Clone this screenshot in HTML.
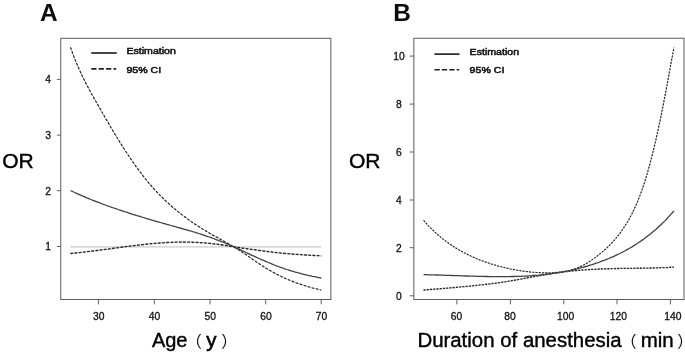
<!DOCTYPE html>
<html lang="en"><head><meta charset="utf-8"><title>OR curves</title>
<style>
html,body{margin:0;padding:0;background:#fff;}
body{width:685px;height:354px;overflow:hidden;}
svg{display:block;}
text{font-family:"Liberation Sans","Noto Sans CJK SC",sans-serif;fill:#141414;}
.tk{font-size:10.3px;fill:#111;stroke:#111;stroke-width:0.3px;}
.lg{font-size:10.6px;fill:#0a0a0a;stroke:#0a0a0a;stroke-width:0.55px;}
.ax{font-size:20.5px;fill:#050505;stroke:#050505;stroke-width:0.4px;}
.pr{font-size:16.1px;fill:#0c0c0c;stroke:none;}
.pl{font-size:24.4px;font-weight:bold;fill:#0a0a0a;}
.box{fill:none;stroke:#5c5c5c;stroke-width:1.0;}
.tks line{stroke:#555;stroke-width:0.95;}
.sol{fill:none;stroke:#414141;stroke-width:1.3;}
.das{fill:none;stroke:#202020;stroke-width:1.15;stroke-dasharray:2.7 1.5;}
.dasB{stroke-dasharray:1.95 1.3;}
.und{fill:none;stroke:#222;stroke-width:0.9;opacity:0.2;}
.fat{stroke-width:1.35;}
.ref{stroke:#dadada;stroke-width:1.55;}
</style></head><body>
<svg width="685" height="354" viewBox="0 0 685 354">
<defs><filter id="soft" x="0" y="0" width="685" height="354" filterUnits="userSpaceOnUse"><feGaussianBlur stdDeviation="0.38"/></filter></defs>
<rect width="685" height="354" fill="#fff"/>
<g filter="url(#soft)">

<g id="panelA">
<text class="pl" x="39.9" y="20.5">A</text>
<text class="ax" x="2.2" y="168.25" style="font-size:21px">OR</text>
<rect class="box" x="60.75" y="38.3" width="270.1" height="261.2"/>
<line class="ref" x1="70.3" y1="246.85" x2="321.3" y2="246.85"/>
<g class="tks">
<line x1="56.9" y1="79.4" x2="60.7" y2="79.4"/>
<line x1="56.9" y1="135.1" x2="60.7" y2="135.1"/>
<line x1="56.9" y1="190.7" x2="60.7" y2="190.7"/>
<line x1="56.9" y1="246.5" x2="60.7" y2="246.5"/>
<line x1="98.4" y1="299.5" x2="98.4" y2="304.3"/>
<line x1="154.3" y1="299.5" x2="154.3" y2="304.3"/>
<line x1="210.0" y1="299.5" x2="210.0" y2="304.3"/>
<line x1="265.7" y1="299.5" x2="265.7" y2="304.3"/>
<line x1="321.2" y1="299.5" x2="321.2" y2="304.3"/>
</g>
<text class="tk" x="48.2" y="83.2" text-anchor="middle">4</text>
<text class="tk" x="48.2" y="138.9" text-anchor="middle">3</text>
<text class="tk" x="48.2" y="194.5" text-anchor="middle">2</text>
<text class="tk" x="48.2" y="250.3" text-anchor="middle">1</text>
<text class="tk" x="98.7" y="320.4" text-anchor="middle">30</text>
<text class="tk" x="154.6" y="320.4" text-anchor="middle">40</text>
<text class="tk" x="210.3" y="320.4" text-anchor="middle">50</text>
<text class="tk" x="266.0" y="320.4" text-anchor="middle">60</text>
<text class="tk" x="321.5" y="320.4" text-anchor="middle">70</text>
<path class="und" d="M70.5,47.3 L71.2,49.4 L72.0,51.5 L72.7,53.6 L73.5,55.6 L74.3,57.7 L75.1,59.7 L76.0,61.8 L76.8,63.8 L77.7,65.9 L78.6,67.9 L79.5,69.9 L80.4,71.9 L81.3,73.9 L82.2,75.9 L83.2,77.9 L84.2,79.9 L85.2,81.9 L86.2,83.9 L87.2,85.8 L88.3,87.8 L89.3,89.7 L90.4,91.7 L91.4,93.6 L92.5,95.5 L93.6,97.4 L94.7,99.4 L95.8,101.3 L96.9,103.2 L98.0,105.1 L99.1,107.0 L100.2,109.0 L101.3,110.9 L102.4,112.8 L103.5,114.7 L104.6,116.6 L105.7,118.5 L106.8,120.4 L108.0,122.3 L109.1,124.2 L110.2,126.2 L111.3,128.1 L112.5,130.0 L113.6,131.9 L114.7,133.7 L115.9,135.6 L117.0,137.5 L118.2,139.4 L119.4,141.3 L120.5,143.2 L121.7,145.0 L122.9,146.9 L124.1,148.8 L125.3,150.6 L126.5,152.5 L127.7,154.3 L128.9,156.2 L130.2,158.0 L131.4,159.8 L132.7,161.6 L133.9,163.5 L135.2,165.3 L136.5,167.1 L137.8,168.8 L139.1,170.6 L140.5,172.4 L141.8,174.1 L143.1,175.9 L144.5,177.6 L145.9,179.4 L147.3,181.1 L148.7,182.8 L150.1,184.5 L151.6,186.1 L153.0,187.8 L154.5,189.5 L156.0,191.1 L157.5,192.7 L159.0,194.3 L160.6,195.9 L162.1,197.4 L163.7,199.0 L165.3,200.5 L166.9,202.0 L168.6,203.5 L170.2,205.0 L171.9,206.5 L173.5,207.9 L175.2,209.3 L176.9,210.7 L178.7,212.1 L180.4,213.5 L182.1,214.9 L183.9,216.2 L185.7,217.5 L187.4,218.8 L189.2,220.1 L191.0,221.4 L192.9,222.7 L194.7,223.9 L196.5,225.1 L198.4,226.3 L200.3,227.5 L202.1,228.7 L204.0,229.9 L205.9,231.0 L207.8,232.2 L209.7,233.3 L211.6,234.4 L213.5,235.5 L215.5,236.6 L217.4,237.6 L219.3,238.7 L221.3,239.8 L223.2,240.8 L225.1,241.9 L227.1,243.0 L229.0,244.1 L230.9,245.2 L232.8,246.3 L234.7,247.4 L236.6,248.6 L238.5,249.8 L240.3,251.0 L242.2,252.2 L244.0,253.4 L245.9,254.6 L247.7,255.9 L249.5,257.1 L251.3,258.4 L253.1,259.7 L255.0,260.9 L256.8,262.1 L258.6,263.4 L260.5,264.6 L262.3,265.8 L264.2,267.0 L266.1,268.2 L268.0,269.3 L269.9,270.4 L271.8,271.5 L273.7,272.6 L275.6,273.7 L277.6,274.7 L279.6,275.7 L281.6,276.7 L283.6,277.6 L285.6,278.5 L287.6,279.4 L289.7,280.3 L291.7,281.1 L293.8,281.9 L295.8,282.7 L297.9,283.4 L300.0,284.1 L302.1,284.8 L304.2,285.5 L306.3,286.2 L308.4,286.8 L310.6,287.4 L312.7,288.0 L314.8,288.5 L317.0,289.0 L319.1,289.6 L321.3,290.0"/>
<path class="das" d="M70.5,47.3 L71.2,49.4 L72.0,51.5 L72.7,53.6 L73.5,55.6 L74.3,57.7 L75.1,59.7 L76.0,61.8 L76.8,63.8 L77.7,65.9 L78.6,67.9 L79.5,69.9 L80.4,71.9 L81.3,73.9 L82.2,75.9 L83.2,77.9 L84.2,79.9 L85.2,81.9 L86.2,83.9 L87.2,85.8 L88.3,87.8 L89.3,89.7 L90.4,91.7 L91.4,93.6 L92.5,95.5 L93.6,97.4 L94.7,99.4 L95.8,101.3 L96.9,103.2 L98.0,105.1 L99.1,107.0 L100.2,109.0 L101.3,110.9 L102.4,112.8 L103.5,114.7 L104.6,116.6 L105.7,118.5 L106.8,120.4 L108.0,122.3 L109.1,124.2 L110.2,126.2 L111.3,128.1 L112.5,130.0 L113.6,131.9 L114.7,133.7 L115.9,135.6 L117.0,137.5 L118.2,139.4 L119.4,141.3 L120.5,143.2 L121.7,145.0 L122.9,146.9 L124.1,148.8 L125.3,150.6 L126.5,152.5 L127.7,154.3 L128.9,156.2 L130.2,158.0 L131.4,159.8 L132.7,161.6 L133.9,163.5 L135.2,165.3 L136.5,167.1 L137.8,168.8 L139.1,170.6 L140.5,172.4 L141.8,174.1 L143.1,175.9 L144.5,177.6 L145.9,179.4 L147.3,181.1 L148.7,182.8 L150.1,184.5 L151.6,186.1 L153.0,187.8 L154.5,189.5 L156.0,191.1 L157.5,192.7 L159.0,194.3 L160.6,195.9 L162.1,197.4 L163.7,199.0 L165.3,200.5 L166.9,202.0 L168.6,203.5 L170.2,205.0 L171.9,206.5 L173.5,207.9 L175.2,209.3 L176.9,210.7 L178.7,212.1 L180.4,213.5 L182.1,214.9 L183.9,216.2 L185.7,217.5 L187.4,218.8 L189.2,220.1 L191.0,221.4 L192.9,222.7 L194.7,223.9 L196.5,225.1 L198.4,226.3 L200.3,227.5 L202.1,228.7 L204.0,229.9 L205.9,231.0 L207.8,232.2 L209.7,233.3 L211.6,234.4 L213.5,235.5 L215.5,236.6 L217.4,237.6 L219.3,238.7 L221.3,239.8 L223.2,240.8 L225.1,241.9 L227.1,243.0 L229.0,244.1 L230.9,245.2 L232.8,246.3 L234.7,247.4 L236.6,248.6 L238.5,249.8 L240.3,251.0 L242.2,252.2 L244.0,253.4 L245.9,254.6 L247.7,255.9 L249.5,257.1 L251.3,258.4 L253.1,259.7 L255.0,260.9 L256.8,262.1 L258.6,263.4 L260.5,264.6 L262.3,265.8 L264.2,267.0 L266.1,268.2 L268.0,269.3 L269.9,270.4 L271.8,271.5 L273.7,272.6 L275.6,273.7 L277.6,274.7 L279.6,275.7 L281.6,276.7 L283.6,277.6 L285.6,278.5 L287.6,279.4 L289.7,280.3 L291.7,281.1 L293.8,281.9 L295.8,282.7 L297.9,283.4 L300.0,284.1 L302.1,284.8 L304.2,285.5 L306.3,286.2 L308.4,286.8 L310.6,287.4 L312.7,288.0 L314.8,288.5 L317.0,289.0 L319.1,289.6 L321.3,290.0"/>
<path class="und fat" d="M70.4,253.5 L72.6,253.3 L74.8,253.0 L77.0,252.8 L79.2,252.6 L81.4,252.3 L83.6,252.1 L85.8,251.8 L88.0,251.6 L90.2,251.3 L92.4,251.0 L94.6,250.8 L96.8,250.5 L99.0,250.2 L101.2,249.9 L103.4,249.6 L105.6,249.3 L107.8,249.1 L110.0,248.8 L112.2,248.5 L114.4,248.2 L116.5,247.9 L118.7,247.6 L120.9,247.3 L123.1,247.0 L125.3,246.7 L127.5,246.4 L129.7,246.1 L131.9,245.9 L134.1,245.6 L136.3,245.3 L138.5,245.1 L140.7,244.8 L142.9,244.6 L145.1,244.3 L147.3,244.1 L149.5,243.9 L151.7,243.6 L153.9,243.4 L156.1,243.3 L158.3,243.1 L160.5,242.9 L162.7,242.8 L165.0,242.6 L167.2,242.5 L169.4,242.4 L171.6,242.3 L173.8,242.2 L176.0,242.1 L178.2,242.1 L180.4,242.1 L182.6,242.0 L184.9,242.1 L187.1,242.1 L189.3,242.1 L191.5,242.2 L193.7,242.3 L195.9,242.3 L198.1,242.5 L200.3,242.6 L202.6,242.8 L204.8,242.9 L207.0,243.1 L209.2,243.3 L211.4,243.6 L213.6,243.8 L215.8,244.1 L218.0,244.4 L220.2,244.7 L222.3,245.0 L224.5,245.3 L226.7,245.6 L228.9,246.0 L231.1,246.3 L233.3,246.6 L235.5,247.0 L237.7,247.3 L239.9,247.6 L242.0,248.0 L244.2,248.3 L246.4,248.6 L248.6,249.0 L250.8,249.3 L253.0,249.6 L255.2,249.9 L257.4,250.2 L259.6,250.5 L261.8,250.8 L264.0,251.1 L266.2,251.4 L268.4,251.7 L270.5,251.9 L272.7,252.2 L274.9,252.4 L277.1,252.7 L279.3,252.9 L281.6,253.1 L283.8,253.3 L286.0,253.5 L288.2,253.7 L290.4,253.9 L292.6,254.1 L294.8,254.3 L297.0,254.4 L299.2,254.6 L301.4,254.7 L303.6,254.9 L305.8,255.0 L308.0,255.1 L310.2,255.3 L312.5,255.4 L314.7,255.5 L316.9,255.6 L319.1,255.7 L321.3,255.9"/>
<path class="das fat" d="M70.4,253.5 L72.6,253.3 L74.8,253.0 L77.0,252.8 L79.2,252.6 L81.4,252.3 L83.6,252.1 L85.8,251.8 L88.0,251.6 L90.2,251.3 L92.4,251.0 L94.6,250.8 L96.8,250.5 L99.0,250.2 L101.2,249.9 L103.4,249.6 L105.6,249.3 L107.8,249.1 L110.0,248.8 L112.2,248.5 L114.4,248.2 L116.5,247.9 L118.7,247.6 L120.9,247.3 L123.1,247.0 L125.3,246.7 L127.5,246.4 L129.7,246.1 L131.9,245.9 L134.1,245.6 L136.3,245.3 L138.5,245.1 L140.7,244.8 L142.9,244.6 L145.1,244.3 L147.3,244.1 L149.5,243.9 L151.7,243.6 L153.9,243.4 L156.1,243.3 L158.3,243.1 L160.5,242.9 L162.7,242.8 L165.0,242.6 L167.2,242.5 L169.4,242.4 L171.6,242.3 L173.8,242.2 L176.0,242.1 L178.2,242.1 L180.4,242.1 L182.6,242.0 L184.9,242.1 L187.1,242.1 L189.3,242.1 L191.5,242.2 L193.7,242.3 L195.9,242.3 L198.1,242.5 L200.3,242.6 L202.6,242.8 L204.8,242.9 L207.0,243.1 L209.2,243.3 L211.4,243.6 L213.6,243.8 L215.8,244.1 L218.0,244.4 L220.2,244.7 L222.3,245.0 L224.5,245.3 L226.7,245.6 L228.9,246.0 L231.1,246.3 L233.3,246.6 L235.5,247.0 L237.7,247.3 L239.9,247.6 L242.0,248.0 L244.2,248.3 L246.4,248.6 L248.6,249.0 L250.8,249.3 L253.0,249.6 L255.2,249.9 L257.4,250.2 L259.6,250.5 L261.8,250.8 L264.0,251.1 L266.2,251.4 L268.4,251.7 L270.5,251.9 L272.7,252.2 L274.9,252.4 L277.1,252.7 L279.3,252.9 L281.6,253.1 L283.8,253.3 L286.0,253.5 L288.2,253.7 L290.4,253.9 L292.6,254.1 L294.8,254.3 L297.0,254.4 L299.2,254.6 L301.4,254.7 L303.6,254.9 L305.8,255.0 L308.0,255.1 L310.2,255.3 L312.5,255.4 L314.7,255.5 L316.9,255.6 L319.1,255.7 L321.3,255.9"/>
<path class="sol" d="M70.6,190.6 L72.6,191.5 L74.6,192.5 L76.6,193.4 L78.7,194.3 L80.7,195.2 L82.7,196.1 L84.8,196.9 L86.8,197.8 L88.9,198.6 L90.9,199.5 L93.0,200.3 L95.0,201.1 L97.1,201.9 L99.2,202.7 L101.2,203.5 L103.3,204.3 L105.4,205.0 L107.5,205.8 L109.6,206.5 L111.7,207.3 L113.8,208.0 L115.9,208.7 L118.0,209.5 L120.1,210.2 L122.2,210.9 L124.3,211.6 L126.4,212.2 L128.5,212.9 L130.6,213.6 L132.7,214.3 L134.8,214.9 L136.9,215.6 L139.1,216.2 L141.2,216.9 L143.3,217.5 L145.4,218.2 L147.5,218.8 L149.7,219.4 L151.8,220.1 L153.9,220.7 L156.1,221.3 L158.2,221.9 L160.3,222.5 L162.5,223.1 L164.6,223.7 L166.7,224.3 L168.9,224.9 L171.0,225.5 L173.1,226.1 L175.3,226.7 L177.4,227.3 L179.5,227.9 L181.7,228.5 L183.8,229.1 L185.9,229.7 L188.1,230.3 L190.2,230.9 L192.3,231.5 L194.5,232.2 L196.6,232.8 L198.7,233.5 L200.8,234.2 L202.9,234.9 L205.0,235.6 L207.1,236.3 L209.2,237.0 L211.3,237.7 L213.4,238.5 L215.5,239.3 L217.5,240.1 L219.6,240.9 L221.7,241.7 L223.7,242.5 L225.8,243.3 L227.8,244.2 L229.8,245.1 L231.9,246.0 L233.9,246.9 L235.9,247.8 L237.9,248.7 L240.0,249.6 L242.0,250.6 L244.0,251.5 L246.0,252.5 L248.0,253.4 L250.0,254.3 L252.0,255.3 L254.0,256.2 L256.0,257.1 L258.0,258.0 L260.1,259.0 L262.1,259.9 L264.1,260.7 L266.2,261.6 L268.2,262.5 L270.3,263.3 L272.3,264.2 L274.4,265.0 L276.4,265.8 L278.5,266.5 L280.6,267.3 L282.7,268.0 L284.8,268.8 L286.9,269.5 L289.0,270.1 L291.1,270.8 L293.2,271.4 L295.4,272.1 L297.5,272.7 L299.6,273.2 L301.8,273.8 L303.9,274.3 L306.1,274.9 L308.3,275.4 L310.4,275.8 L312.6,276.3 L314.8,276.7 L316.9,277.2 L319.1,277.6 L321.3,278.0"/>
<line x1="91.3" y1="53.0" x2="116.7" y2="53.0" style="stroke:#1a1a1a;stroke-width:1.6"/>
<line x1="91.3" y1="68.9" x2="116.2" y2="68.9" style="stroke:#222;stroke-dasharray:5.2 2.2;stroke-width:1.6"/>
<text class="lg" transform="translate(126.4,54.3) scale(1,0.9)">Estimation</text>
<text class="lg" transform="translate(126.4,72.5) scale(1,0.92)">95% CI</text>
<text class="ax" y="347.3"><tspan x="151.9" style="font-size:20px">Age</tspan><tspan class="pr" x="185.7">（</tspan><tspan x="206.3" style="stroke-width:0.6px">y</tspan><tspan class="pr" x="221.3">）</tspan></text>
</g>
<g id="panelB">
<text class="pl" x="393.3" y="20.5">B</text>
<text class="ax" x="349.0" y="168.25" style="font-size:21px">OR</text>
<rect class="box" x="413.85" y="38.25" width="270.15" height="261.25"/>
<g class="tks">
<line x1="409.7" y1="56.1" x2="413.8" y2="56.1"/>
<line x1="409.7" y1="104.1" x2="413.8" y2="104.1"/>
<line x1="409.7" y1="152" x2="413.8" y2="152"/>
<line x1="409.7" y1="200" x2="413.8" y2="200"/>
<line x1="409.7" y1="247.7" x2="413.8" y2="247.7"/>
<line x1="409.7" y1="295.8" x2="413.8" y2="295.8"/>
<line x1="456.9" y1="299.5" x2="456.9" y2="304.3"/>
<line x1="510.4" y1="299.5" x2="510.4" y2="304.3"/>
<line x1="563.8" y1="299.5" x2="563.8" y2="304.3"/>
<line x1="617" y1="299.5" x2="617" y2="304.3"/>
<line x1="670.4" y1="299.5" x2="670.4" y2="304.3"/>
</g>
<text class="tk" x="398.9" y="59.9" text-anchor="middle">10</text>
<text class="tk" x="398.9" y="107.9" text-anchor="middle">8</text>
<text class="tk" x="398.9" y="155.8" text-anchor="middle">6</text>
<text class="tk" x="398.9" y="203.8" text-anchor="middle">4</text>
<text class="tk" x="398.9" y="251.5" text-anchor="middle">2</text>
<text class="tk" x="398.9" y="299.6" text-anchor="middle">0</text>
<text class="tk" x="456.4" y="320.4" text-anchor="middle">60</text>
<text class="tk" x="510.0" y="320.4" text-anchor="middle">80</text>
<text class="tk" x="565.6" y="320.4" text-anchor="middle">100</text>
<text class="tk" x="618.4" y="320.4" text-anchor="middle">120</text>
<text class="tk" x="672.9" y="320.4" text-anchor="middle">140</text>
<path class="und" d="M423.6,220.4 L425.1,222.0 L426.5,223.7 L428.0,225.3 L429.6,226.9 L431.1,228.5 L432.7,230.0 L434.3,231.5 L435.9,233.0 L437.6,234.5 L439.2,235.9 L440.9,237.4 L442.6,238.7 L444.4,240.1 L446.1,241.4 L447.9,242.7 L449.7,244.0 L451.5,245.3 L453.4,246.5 L455.3,247.7 L457.1,248.8 L459.0,249.9 L461.0,251.0 L462.9,252.1 L464.8,253.1 L466.8,254.1 L468.8,255.1 L470.8,256.1 L472.8,257.0 L474.8,257.9 L476.8,258.7 L478.9,259.6 L480.9,260.4 L483.0,261.1 L485.1,261.9 L487.2,262.6 L489.3,263.3 L491.4,264.0 L493.5,264.6 L495.6,265.3 L497.7,265.9 L499.8,266.4 L502.0,267.0 L504.1,267.5 L506.3,268.0 L508.4,268.5 L510.6,269.0 L512.8,269.4 L514.9,269.8 L517.1,270.2 L519.3,270.5 L521.5,270.9 L523.6,271.2 L525.8,271.5 L528.0,271.7 L530.2,272.0 L532.4,272.2 L534.6,272.3 L536.8,272.5 L539.0,272.6 L541.2,272.7 L543.4,272.8 L545.6,272.8 L547.9,272.8 L550.1,272.8 L552.3,272.7 L554.5,272.6 L556.7,272.4 L558.9,272.2 L561.1,271.9 L563.2,271.6 L565.4,271.2 L567.6,270.8 L569.7,270.3 L571.9,269.7 L574.0,269.1 L576.1,268.4 L578.1,267.6 L580.2,266.7 L582.2,265.8 L584.1,264.8 L586.0,263.7 L587.9,262.6 L589.8,261.4 L591.6,260.1 L593.4,258.9 L595.2,257.6 L597.0,256.3 L598.7,254.9 L600.4,253.5 L602.1,252.1 L603.8,250.6 L605.4,249.2 L607.1,247.7 L608.6,246.1 L610.2,244.6 L611.7,243.0 L613.2,241.3 L614.7,239.7 L616.1,238.0 L617.5,236.3 L618.9,234.6 L620.2,232.8 L621.5,231.0 L622.8,229.2 L624.0,227.4 L625.2,225.6 L626.4,223.7 L627.6,221.8 L628.7,219.9 L629.7,218.0 L630.8,216.0 L631.8,214.1 L632.8,212.1 L633.8,210.1 L634.7,208.1 L635.6,206.1 L636.5,204.1 L637.4,202.0 L638.2,200.0 L639.0,197.9 L639.8,195.9 L640.6,193.8 L641.3,191.7 L642.1,189.7 L642.8,187.6 L643.5,185.5 L644.2,183.4 L644.9,181.3 L645.5,179.2 L646.2,177.1 L646.8,175.0 L647.4,172.8 L648.0,170.7 L648.6,168.6 L649.2,166.5 L649.8,164.3 L650.4,162.2 L650.9,160.1 L651.5,157.9 L652.0,155.8 L652.6,153.6 L653.1,151.5 L653.6,149.4 L654.2,147.2 L654.7,145.1 L655.2,142.9 L655.7,140.8 L656.2,138.6 L656.6,136.5 L657.1,134.3 L657.6,132.1 L658.1,130.0 L658.5,127.8 L659.0,125.7 L659.5,123.5 L659.9,121.4 L660.4,119.2 L660.8,117.0 L661.2,114.9 L661.7,112.7 L662.1,110.5 L662.5,108.4 L663.0,106.2 L663.4,104.0 L663.8,101.9 L664.2,99.7 L664.7,97.5 L665.1,95.4 L665.5,93.2 L665.9,91.0 L666.3,88.9 L666.7,86.7 L667.1,84.5 L667.5,82.4 L667.9,80.2 L668.3,78.0 L668.7,75.8 L669.1,73.7 L669.5,71.5 L669.9,69.3 L670.3,67.2 L670.7,65.0 L671.1,62.8 L671.5,60.6 L671.9,58.5 L672.3,56.3 L672.7,54.1 L673.1,52.0 L673.5,49.8 L673.9,47.6"/>
<path class="das dasB" d="M423.6,220.4 L425.1,222.0 L426.5,223.7 L428.0,225.3 L429.6,226.9 L431.1,228.5 L432.7,230.0 L434.3,231.5 L435.9,233.0 L437.6,234.5 L439.2,235.9 L440.9,237.4 L442.6,238.7 L444.4,240.1 L446.1,241.4 L447.9,242.7 L449.7,244.0 L451.5,245.3 L453.4,246.5 L455.3,247.7 L457.1,248.8 L459.0,249.9 L461.0,251.0 L462.9,252.1 L464.8,253.1 L466.8,254.1 L468.8,255.1 L470.8,256.1 L472.8,257.0 L474.8,257.9 L476.8,258.7 L478.9,259.6 L480.9,260.4 L483.0,261.1 L485.1,261.9 L487.2,262.6 L489.3,263.3 L491.4,264.0 L493.5,264.6 L495.6,265.3 L497.7,265.9 L499.8,266.4 L502.0,267.0 L504.1,267.5 L506.3,268.0 L508.4,268.5 L510.6,269.0 L512.8,269.4 L514.9,269.8 L517.1,270.2 L519.3,270.5 L521.5,270.9 L523.6,271.2 L525.8,271.5 L528.0,271.7 L530.2,272.0 L532.4,272.2 L534.6,272.3 L536.8,272.5 L539.0,272.6 L541.2,272.7 L543.4,272.8 L545.6,272.8 L547.9,272.8 L550.1,272.8 L552.3,272.7 L554.5,272.6 L556.7,272.4 L558.9,272.2 L561.1,271.9 L563.2,271.6 L565.4,271.2 L567.6,270.8 L569.7,270.3 L571.9,269.7 L574.0,269.1 L576.1,268.4 L578.1,267.6 L580.2,266.7 L582.2,265.8 L584.1,264.8 L586.0,263.7 L587.9,262.6 L589.8,261.4 L591.6,260.1 L593.4,258.9 L595.2,257.6 L597.0,256.3 L598.7,254.9 L600.4,253.5 L602.1,252.1 L603.8,250.6 L605.4,249.2 L607.1,247.7 L608.6,246.1 L610.2,244.6 L611.7,243.0 L613.2,241.3 L614.7,239.7 L616.1,238.0 L617.5,236.3 L618.9,234.6 L620.2,232.8 L621.5,231.0 L622.8,229.2 L624.0,227.4 L625.2,225.6 L626.4,223.7 L627.6,221.8 L628.7,219.9 L629.7,218.0 L630.8,216.0 L631.8,214.1 L632.8,212.1 L633.8,210.1 L634.7,208.1 L635.6,206.1 L636.5,204.1 L637.4,202.0 L638.2,200.0 L639.0,197.9 L639.8,195.9 L640.6,193.8 L641.3,191.7 L642.1,189.7 L642.8,187.6 L643.5,185.5 L644.2,183.4 L644.9,181.3 L645.5,179.2 L646.2,177.1 L646.8,175.0 L647.4,172.8 L648.0,170.7 L648.6,168.6 L649.2,166.5 L649.8,164.3 L650.4,162.2 L650.9,160.1 L651.5,157.9 L652.0,155.8 L652.6,153.6 L653.1,151.5 L653.6,149.4 L654.2,147.2 L654.7,145.1 L655.2,142.9 L655.7,140.8 L656.2,138.6 L656.6,136.5 L657.1,134.3 L657.6,132.1 L658.1,130.0 L658.5,127.8 L659.0,125.7 L659.5,123.5 L659.9,121.4 L660.4,119.2 L660.8,117.0 L661.2,114.9 L661.7,112.7 L662.1,110.5 L662.5,108.4 L663.0,106.2 L663.4,104.0 L663.8,101.9 L664.2,99.7 L664.7,97.5 L665.1,95.4 L665.5,93.2 L665.9,91.0 L666.3,88.9 L666.7,86.7 L667.1,84.5 L667.5,82.4 L667.9,80.2 L668.3,78.0 L668.7,75.8 L669.1,73.7 L669.5,71.5 L669.9,69.3 L670.3,67.2 L670.7,65.0 L671.1,62.8 L671.5,60.6 L671.9,58.5 L672.3,56.3 L672.7,54.1 L673.1,52.0 L673.5,49.8 L673.9,47.6"/>
<path class="und fat" d="M423.6,290.0 L425.8,289.8 L428.0,289.7 L430.2,289.5 L432.4,289.3 L434.6,289.2 L436.8,289.0 L439.0,288.8 L441.2,288.6 L443.4,288.4 L445.6,288.3 L447.8,288.1 L450.0,287.9 L452.2,287.7 L454.4,287.5 L456.6,287.3 L458.8,287.1 L461.0,286.9 L463.2,286.7 L465.4,286.5 L467.6,286.3 L469.8,286.1 L472.0,285.9 L474.2,285.6 L476.4,285.4 L478.6,285.2 L480.8,284.9 L483.0,284.7 L485.2,284.4 L487.4,284.2 L489.6,283.9 L491.8,283.6 L494.0,283.4 L496.2,283.1 L498.3,282.8 L500.5,282.5 L502.7,282.1 L504.9,281.8 L507.1,281.5 L509.3,281.1 L511.4,280.7 L513.6,280.4 L515.8,280.0 L518.0,279.6 L520.1,279.2 L522.3,278.8 L524.5,278.4 L526.7,278.0 L528.8,277.6 L531.0,277.2 L533.2,276.8 L535.4,276.4 L537.5,276.0 L539.7,275.6 L541.9,275.2 L544.0,274.8 L546.2,274.5 L548.4,274.1 L550.6,273.8 L552.8,273.4 L555.0,273.1 L557.1,272.8 L559.3,272.5 L561.5,272.2 L563.7,271.9 L565.9,271.6 L568.1,271.4 L570.3,271.1 L572.5,270.9 L574.7,270.7 L576.9,270.5 L579.1,270.3 L581.3,270.1 L583.5,269.9 L585.7,269.8 L587.9,269.6 L590.1,269.5 L592.3,269.4 L594.5,269.3 L596.7,269.1 L598.9,269.0 L601.1,269.0 L603.3,268.9 L605.5,268.8 L607.8,268.7 L610.0,268.7 L612.2,268.6 L614.4,268.6 L616.6,268.5 L618.8,268.5 L621.0,268.4 L623.2,268.4 L625.4,268.4 L627.6,268.3 L629.8,268.3 L632.1,268.3 L634.3,268.3 L636.5,268.2 L638.7,268.2 L640.9,268.2 L643.1,268.1 L645.3,268.1 L647.5,268.1 L649.7,268.0 L651.9,268.0 L654.1,267.9 L656.3,267.9 L658.6,267.8 L660.8,267.7 L663.0,267.6 L665.2,267.6 L667.4,267.5 L669.6,267.3 L671.8,267.2 L674.0,267.1"/>
<path class="das dasB fat" d="M423.6,290.0 L425.8,289.8 L428.0,289.7 L430.2,289.5 L432.4,289.3 L434.6,289.2 L436.8,289.0 L439.0,288.8 L441.2,288.6 L443.4,288.4 L445.6,288.3 L447.8,288.1 L450.0,287.9 L452.2,287.7 L454.4,287.5 L456.6,287.3 L458.8,287.1 L461.0,286.9 L463.2,286.7 L465.4,286.5 L467.6,286.3 L469.8,286.1 L472.0,285.9 L474.2,285.6 L476.4,285.4 L478.6,285.2 L480.8,284.9 L483.0,284.7 L485.2,284.4 L487.4,284.2 L489.6,283.9 L491.8,283.6 L494.0,283.4 L496.2,283.1 L498.3,282.8 L500.5,282.5 L502.7,282.1 L504.9,281.8 L507.1,281.5 L509.3,281.1 L511.4,280.7 L513.6,280.4 L515.8,280.0 L518.0,279.6 L520.1,279.2 L522.3,278.8 L524.5,278.4 L526.7,278.0 L528.8,277.6 L531.0,277.2 L533.2,276.8 L535.4,276.4 L537.5,276.0 L539.7,275.6 L541.9,275.2 L544.0,274.8 L546.2,274.5 L548.4,274.1 L550.6,273.8 L552.8,273.4 L555.0,273.1 L557.1,272.8 L559.3,272.5 L561.5,272.2 L563.7,271.9 L565.9,271.6 L568.1,271.4 L570.3,271.1 L572.5,270.9 L574.7,270.7 L576.9,270.5 L579.1,270.3 L581.3,270.1 L583.5,269.9 L585.7,269.8 L587.9,269.6 L590.1,269.5 L592.3,269.4 L594.5,269.3 L596.7,269.1 L598.9,269.0 L601.1,269.0 L603.3,268.9 L605.5,268.8 L607.8,268.7 L610.0,268.7 L612.2,268.6 L614.4,268.6 L616.6,268.5 L618.8,268.5 L621.0,268.4 L623.2,268.4 L625.4,268.4 L627.6,268.3 L629.8,268.3 L632.1,268.3 L634.3,268.3 L636.5,268.2 L638.7,268.2 L640.9,268.2 L643.1,268.1 L645.3,268.1 L647.5,268.1 L649.7,268.0 L651.9,268.0 L654.1,267.9 L656.3,267.9 L658.6,267.8 L660.8,267.7 L663.0,267.6 L665.2,267.6 L667.4,267.5 L669.6,267.3 L671.8,267.2 L674.0,267.1"/>
<path class="sol" d="M423.6,274.7 L425.8,274.7 L428.0,274.8 L430.2,274.8 L432.4,274.9 L434.6,274.9 L436.8,275.0 L439.0,275.1 L441.2,275.1 L443.4,275.2 L445.6,275.3 L447.8,275.3 L450.1,275.4 L452.3,275.5 L454.5,275.6 L456.7,275.7 L458.9,275.7 L461.1,275.8 L463.3,275.9 L465.5,276.0 L467.7,276.0 L469.9,276.1 L472.1,276.2 L474.3,276.2 L476.5,276.3 L478.7,276.3 L480.9,276.4 L483.1,276.4 L485.3,276.5 L487.5,276.5 L489.7,276.6 L491.9,276.6 L494.1,276.6 L496.3,276.6 L498.6,276.6 L500.8,276.6 L503.0,276.6 L505.2,276.6 L507.4,276.6 L509.6,276.6 L511.8,276.5 L514.0,276.5 L516.2,276.4 L518.4,276.3 L520.6,276.3 L522.8,276.2 L525.0,276.1 L527.2,276.0 L529.4,275.8 L531.6,275.7 L533.8,275.5 L536.0,275.3 L538.2,275.2 L540.4,275.0 L542.6,274.7 L544.8,274.5 L547.0,274.2 L549.2,274.0 L551.4,273.7 L553.5,273.4 L555.7,273.1 L557.9,272.7 L560.1,272.4 L562.2,272.0 L564.4,271.6 L566.6,271.2 L568.7,270.7 L570.9,270.3 L573.1,269.8 L575.2,269.3 L577.3,268.8 L579.5,268.2 L581.6,267.7 L583.7,267.1 L585.9,266.5 L588.0,265.9 L590.1,265.2 L592.2,264.6 L594.3,263.9 L596.4,263.2 L598.5,262.5 L600.5,261.7 L602.6,260.9 L604.7,260.2 L606.7,259.3 L608.8,258.5 L610.8,257.6 L612.8,256.8 L614.8,255.9 L616.8,254.9 L618.8,254.0 L620.8,253.0 L622.7,252.0 L624.7,251.0 L626.6,249.9 L628.6,248.8 L630.5,247.7 L632.4,246.6 L634.2,245.4 L636.1,244.2 L637.9,243.0 L639.8,241.8 L641.6,240.6 L643.4,239.3 L645.2,238.0 L646.9,236.6 L648.7,235.3 L650.4,233.9 L652.1,232.5 L653.8,231.1 L655.5,229.7 L657.1,228.2 L658.7,226.7 L660.4,225.2 L661.9,223.7 L663.5,222.1 L665.1,220.6 L666.6,219.0 L668.1,217.4 L669.6,215.8 L671.1,214.1 L672.6,212.5 L674.0,210.8"/>
<line x1="434.5" y1="54.1" x2="459.5" y2="54.1" style="stroke:#1a1a1a;stroke-width:1.6"/>
<line x1="434.5" y1="69.8" x2="459.3" y2="69.8" style="stroke:#222;stroke-dasharray:5.2 2.2;stroke-width:1.6"/>
<text class="lg" transform="translate(469.6,55.3) scale(1,0.9)">Estimation</text>
<text class="lg" transform="translate(469.6,73.1) scale(1,0.92)">95% CI</text>
<text class="ax" y="347.45"><tspan x="417.4" style="font-size:20.42px">Duration of anesthesia</tspan><tspan class="pr" x="620.5">（</tspan><tspan x="640.7">min</tspan><tspan class="pr" x="677.2">）</tspan></text>
</g>
</g>
</svg></body></html>
